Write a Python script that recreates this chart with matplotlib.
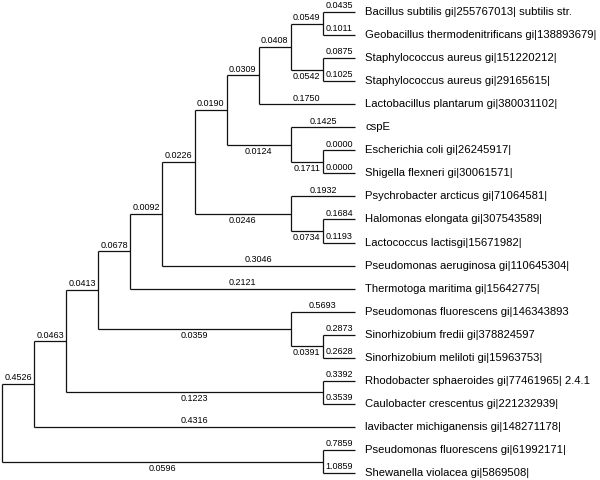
import matplotlib
matplotlib.use('Agg')
import matplotlib.pyplot as plt

plt.rcParams['font.family'] = ['Liberation Sans', 'DejaVu Sans']

# leaves, top to bottom
leaves = [
    'Bacillus subtilis gi|255767013| subtilis str.',
    'Geobacillus thermodenitrificans gi|138893679|',
    'Staphylococcus aureus gi|151220212|',
    'Staphylococcus aureus gi|29165615|',
    'Lactobacillus plantarum gi|380031102|',
    'cspE',
    'Escherichia coli gi|26245917|',
    'Shigella flexneri gi|30061571|',
    'Psychrobacter arcticus gi|71064581|',
    'Halomonas elongata gi|307543589|',
    'Lactococcus lactisgi|15671982|',
    'Pseudomonas aeruginosa gi|110645304|',
    'Thermotoga maritima gi|15642775|',
    'Pseudomonas fluorescens gi|146343893',
    'Sinorhizobium fredii gi|378824597',
    'Sinorhizobium meliloti gi|15963753|',
    'Rhodobacter sphaeroides gi|77461965| 2.4.1',
    'Caulobacter crescentus gi|221232939|',
    'lavibacter michiganensis gi|148271178|',
    'Pseudomonas fluorescens gi|61992171|',
    'Shewanella violacea gi|5869508|',
]
leaf_parent = ['BG', 'BG', 'SS', 'SS', 'H', 'CE', 'ES', 'ES', 'PHL', 'HL', 'HL',
               'E', 'D', 'PfS', 'Sino', 'Sino', 'RC', 'RC', 'A', 'PS', 'PS']
leaf_len = [0.0435, 0.1011, 0.0875, 0.1025, 0.1750, 0.1425, 0.0000, 0.0000,
            0.1932, 0.1684, 0.1193, 0.3046, 0.2121, 0.5693, 0.2873, 0.2628,
            0.3392, 0.3539, 0.4316, 0.7859, 1.0859]

# internal nodes
nodes = ['R', 'A', 'B', 'C', 'D', 'E', 'F', 'G', 'H', 'I', 'BG', 'SS', 'CE', 'ES',
         'PHL', 'HL', 'PfS', 'Sino', 'RC', 'PS']
node_level = [0, 1, 2, 3, 4, 5, 6, 7, 8, 9, 10, 10, 9, 10, 9, 10, 9, 10, 10, 10]
node_parent = [None, 'R', 'A', 'B', 'C', 'D', 'E', 'F', 'G', 'H', 'I', 'I', 'G', 'CE',
               'F', 'PHL', 'C', 'PfS', 'B', 'R']
node_len = [None, 0.4526, 0.0463, 0.0413, 0.0678, 0.0092, 0.0226, 0.0190, 0.0309,
            0.0408, 0.0549, 0.0542, 0.0124, 0.1711, 0.0246, 0.0734, 0.0359, 0.0391,
            0.1223, 0.0596]

leaf_level = 11

# positions
xpos = {}
ypos = {}
children = {n: [] for n in nodes}
for i, name in enumerate(leaves):
    key = ('leaf', i)
    xpos[key] = leaf_level
    ypos[key] = i
    children[leaf_parent[i]].append((key, leaf_len[i], True))
for n, lev, p, ln in zip(nodes, node_level, node_parent, node_len):
    xpos[n] = lev
    if p is not None:
        children[p].append((n, ln, False))

def get_y(n):
    if n in ypos:
        return ypos[n]
    ys = [get_y(c) for c, _, _ in children[n]]
    ypos[n] = (min(ys) + max(ys)) / 2
    return ypos[n]

get_y('R')

fig = plt.figure(figsize=(6, 4.8), dpi=100)
ax = fig.add_axes([0, 0, 1, 1])
col = '#111111'
lw = 0.9

for n in nodes:
    kids = children[n]
    ys = [get_y(c) for c, _, _ in kids]
    x0 = xpos[n]
    ax.plot([x0, x0], [min(ys), max(ys)], color=col, lw=lw, solid_capstyle='butt')
    ymax = max(ys)
    for c, ln, is_leaf in kids:
        yc = get_y(c)
        x1 = xpos[c]
        ax.plot([x0, x1], [yc, yc], color=col, lw=lw, solid_capstyle='butt')
        # inner lower branches get their label under the line
        below = (not is_leaf) and yc == ymax
        ax.annotate('%.4f' % ln, ((x0 + x1) / 2, yc),
                    xytext=(0, -1.5 if below else 1.2), textcoords='offset points',
                    ha='center', va='top' if below else 'bottom',
                    fontsize=6.5, color='black')

for i, name in enumerate(leaves):
    ax.annotate(name, (leaf_level, i), xytext=(7.5, 0), textcoords='offset points',
                ha='left', va='center', fontsize=8.1, color='black')

ax.set_xlim(-0.0623, 18.635)
ax.set_ylim(20.30, -0.52)
ax.axis('off')

fig.savefig('out.png', dpi=100)
